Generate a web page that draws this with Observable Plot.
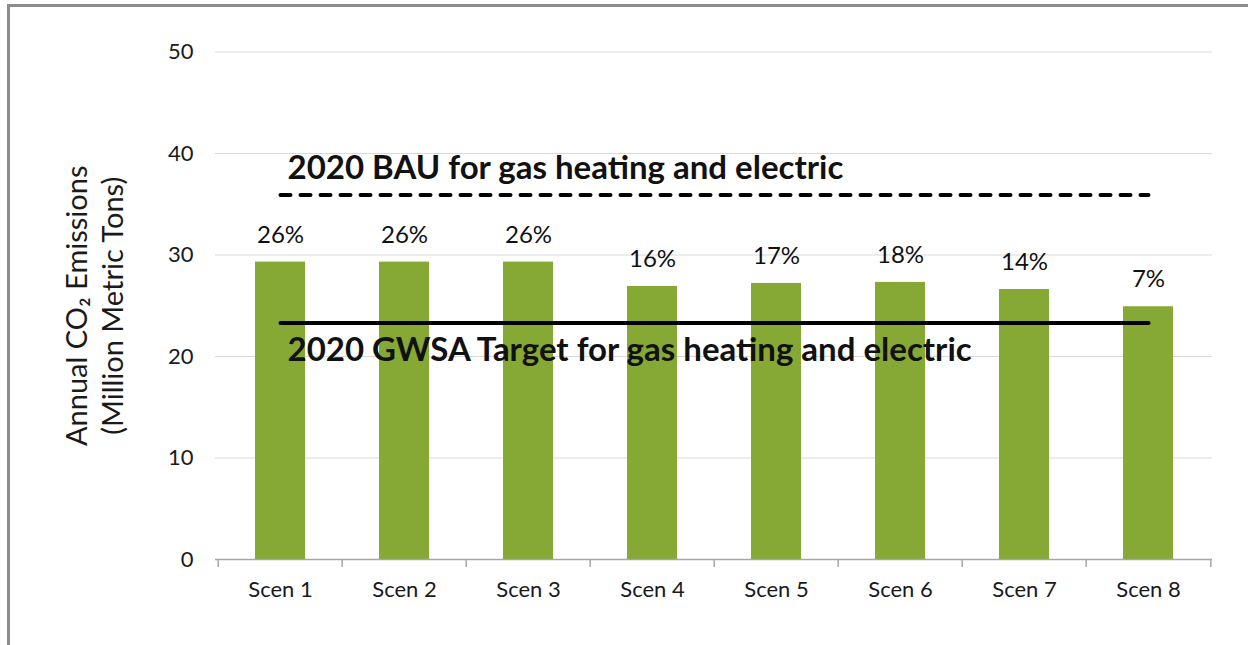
<!DOCTYPE html>
<html>
<head>
<meta charset="utf-8">
<script src="https://cdn.jsdelivr.net/npm/d3@7"></script>
<script src="https://cdn.jsdelivr.net/npm/@observablehq/plot@0.6"></script>
<style>
  html, body { margin: 0; padding: 0; background: #fff; }
  #wrap { position: relative; width: 1248px; height: 645px; overflow: hidden; }
  #border { position: absolute; left: 7px; top: 4px; right: -10px; bottom: -10px;
            border-left: 3px solid #8c8c8c; border-top: 3px solid #8c8c8c; pointer-events: none; }
</style>
</head>
<body>
<div id="wrap"><div id="chart"></div><div id="border"></div></div>
<script>
const scenarios = ["Scen 1", "Scen 2", "Scen 3", "Scen 4", "Scen 5", "Scen 6", "Scen 7", "Scen 8"];
const emissions = [29.3, 29.3, 29.3, 26.9, 27.2, 27.3, 26.6, 24.9];
const reductions = ["26%", "26%", "26%", "16%", "17%", "18%", "14%", "7%"];
const yTicks = [0, 10, 20, 30, 40, 50];
const bauValue = 35.9;
const targetValue = 23.3;
const bauLabel = "2020 BAU for gas heating and electric";
const targetLabel = "2020 GWSA Target for gas heating and electric";
const yLabel = "Annual CO\u2082 Emissions\n(Million Metric Tons)";

const bars = scenarios.map((s, i) => ({scenario: s, value: emissions[i], label: reductions[i]}));
const refLine = (v) => [{scenario: scenarios[0], value: v}, {scenario: scenarios[scenarios.length - 1], value: v}];

const W = 1248, H = 645, mL = 215, mR = 36;
const step = (W - mL - mR) / scenarios.length;

const chart = Plot.plot({
  width: W,
  height: H,
  marginLeft: mL,
  marginRight: mR,
  marginTop: 51.5,
  marginBottom: 86,
  style: {fontFamily: "Lato, 'Open Sans', sans-serif", fontSize: "22px", color: "#1a1a1a", background: "#fff"},
  x: {domain: scenarios, type: "band", paddingInner: 0.6, paddingOuter: 0.3},
  y: {domain: [0, 50]},
  marks: [
    Plot.gridY(yTicks.filter(d => d > 0), {stroke: "#d9d9d9", strokeOpacity: 1, strokeWidth: 1.2}),
    Plot.axisY({ticks: yTicks, tickSize: 0, tickPadding: 22, fontSize: 22, label: null}),
    Plot.barY(bars, {x: "scenario", y: "value", fill: "#86a834"}),
    Plot.ruleY([0], {stroke: "#a6a6a6", strokeWidth: 1.5}),
    Plot.ruleX(scenarios, {x: d => d, y1: 0, y2: 0, insetBottom: -8, dx: -step / 2, stroke: "#a6a6a6", strokeWidth: 1.5}),
    Plot.ruleX([scenarios[scenarios.length - 1]], {x: d => d, y1: 0, y2: 0, insetBottom: -8, dx: step / 2, stroke: "#a6a6a6", strokeWidth: 1.5}),
    Plot.axisX({tickSize: 0, tickPadding: 22, fontSize: 22, label: null}),
    Plot.text(bars, {x: "scenario", y: "value", text: "label", dy: -27, fontSize: 24, fill: "#111"}),
    Plot.lineY(refLine(bauValue), {x: "scenario", y: "value", stroke: "#000", strokeWidth: 4, strokeDasharray: "10,10", strokeLinecap: "round"}),
    Plot.lineY(refLine(targetValue), {x: "scenario", y: "value", stroke: "#000", strokeWidth: 4, strokeLinecap: "round"}),
    Plot.text([bauLabel], {x: () => scenarios[0], y: () => bauValue, text: d => d, textAnchor: "start", dx: 7, dy: -27, fontSize: 33, letterSpacing: 1.6, fontWeight: "bold", fill: "#111"}),
    Plot.text([targetLabel], {x: () => scenarios[0], y: () => targetValue, text: d => d, textAnchor: "start", dx: 7, dy: 27, fontSize: 33, letterSpacing: 1.6, fontWeight: "bold", fill: "#111"}),
    Plot.text([yLabel], {frameAnchor: "left", textAnchor: "middle", text: d => d, rotate: -90, dx: -122, fontSize: 29, lineHeight: 1.25, fill: "#1a1a1a"})
  ]
});
document.getElementById("chart").appendChild(chart);
</script>
</body>
</html>
